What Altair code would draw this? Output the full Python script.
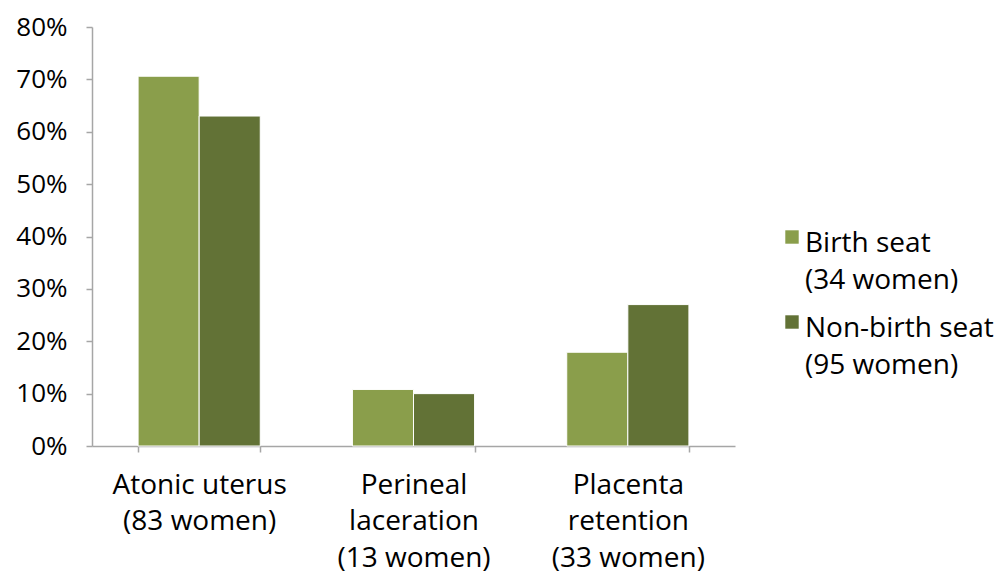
import altair as alt
import pandas as pd

# Complication categories (label lines separated by "|")
categories = [
    "Atonic uterus|(83 women)",
    "Perineal|laceration|(13 women)",
    "Placenta|retention|(33 women)",
]
groups = ["Birth seat", "Non-birth seat"]
group_notes = ["(34 women)", "(95 women)"]
birth_seat = [0.706, 0.108, 0.179]
non_birth_seat = [0.630, 0.100, 0.270]
colors = ["#8A9E4B", "#627236"]

rows = []
for cat, a, b in zip(categories, birth_seat, non_birth_seat):
    rows.append({"category": cat, "group": groups[0], "value": a})
    rows.append({"category": cat, "group": groups[1], "value": b})
df = pd.DataFrame(rows)

FONT = "Open Sans"
AXIS_GRAY = "#A6A6A6"
color_scale = alt.Scale(domain=groups, range=colors)

bars = (
    alt.Chart(df)
    .mark_bar(stroke="white", strokeWidth=1)
    .encode(
        x=alt.X(
            "category:N",
            sort=categories,
            scale=alt.Scale(paddingInner=0.43, paddingOuter=0.215),
            axis=alt.Axis(
                title=None,
                labelAngle=0,
                labelExpr="split(datum.label, '|')",
                labelFont=FONT,
                labelFontSize=28,
                labelLineHeight=36.5,
                labelColor="#000000",
                labelPadding=19,
                labelBaseline="top",
                tickBand="extent",
                tickSize=6,
                tickColor=AXIS_GRAY,
                domainColor=AXIS_GRAY,
                domainWidth=1.5,
                tickWidth=1.5,
                labelLimit=0,
            ),
        ),
        xOffset=alt.XOffset("group:N", sort=groups),
        y=alt.Y(
            "value:Q",
            scale=alt.Scale(domain=[0, 0.8], nice=False),
            axis=alt.Axis(
                title=None,
                format=".0%",
                values=[0, 0.1, 0.2, 0.3, 0.4, 0.5, 0.6, 0.7, 0.8],
                grid=False,
                labelFont=FONT,
                labelFontSize=26,
                labelColor="#000000",
                labelPadding=19,
                tickSize=6,
                tickColor=AXIS_GRAY,
                domainColor=AXIS_GRAY,
                domainWidth=1.5,
                tickWidth=1.5,
            ),
        ),
        color=alt.Color("group:N", scale=color_scale, legend=None),
    )
)

# Legend: a colour swatch beside a two-line label for each group
legend_layers = []
for i, (g, note) in enumerate(zip(groups, group_notes)):
    top = 210 + i * 85
    entry = pd.DataFrame({"group": [g]})
    swatch = (
        alt.Chart(entry)
        .mark_square(size=180, opacity=1)
        .encode(
            x=alt.value(700),
            y=alt.value(top),
            color=alt.Color("group:N", scale=color_scale, legend=None),
        )
    )
    text = (
        alt.Chart(pd.DataFrame({"line": [g, note], "k": [0, 1]}))
        .mark_text(
            align="left",
            baseline="middle",
            font=FONT,
            fontSize=28,
            color="#000000",
        )
        .encode(
            x=alt.value(713),
            y=alt.Y(
                "k:Q",
                scale=alt.Scale(domain=[0, 1], range=[top + 7, top + 44]),
                axis=None,
            ),
            text="line:N",
        )
    )
    legend_layers += [swatch, text]

chart = (
    alt.layer(bars, *legend_layers)
    .resolve_scale(y="independent")
    .properties(
        width=643,
        height=419,
        padding={"left": 92, "top": 27, "right": 270, "bottom": 128},
        autosize=alt.AutoSizeParams(type="none"),
    )
    .configure_view(stroke=None)
)

chart.save("out.html", embed_options={"renderer": "svg", "actions": False})
